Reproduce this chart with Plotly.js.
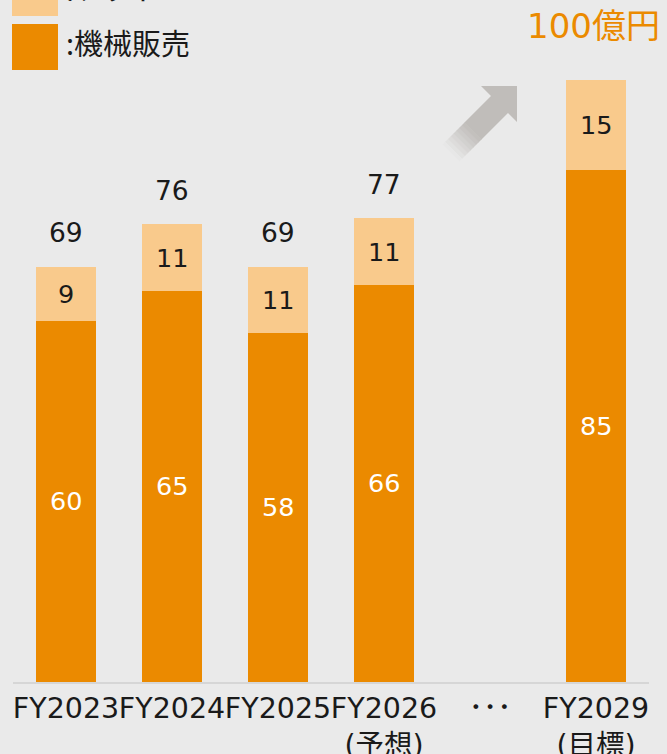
<!DOCTYPE html>
<html>
<head>
<meta charset="utf-8">
<script src="https://cdn.plot.ly/plotly-3.0.1.min.js"></script>
<style>html,body{margin:0;padding:0;background:#eaeaea;}#chart{width:667px;height:754px;}</style>
</head>
<body>
<div id="chart"></div>
<script>
// ---- data ----
const categories = ['FY2023', 'FY2024', 'FY2025', 'FY2026', 'gap', 'FY2029'];
const tickLabels = ['FY2023', 'FY2024', 'FY2025', 'FY2026<br>(予想)', '･･･', 'FY2029<br>(目標)'];
const machineSales = [60, 65, 58, 66, null, 85];
const otherSales = [9, 11, 11, 11, null, 15];
const totals = [69, 76, 69, 77, null, 100];
const targetLabel = '100億円';
const legendMachine = ':機械販売';
const legendOther = ':ソフト';

// ---- styles ----
const FONT = '"DejaVu Sans", "Noto Sans CJK JP", sans-serif';
const CJK = '"Noto Sans CJK JP", sans-serif';
const DARK = '#eb8a00';
const LIGHT = '#f9ca8c';
const BG = '#eaeaea';
const TXT = '#1a1a1a';

const W = 667, H = 754, ML = 13, MR = 18, MT = 0, MB = 72;
const PW = W - ML - MR, PH = H - MT - MB;
const px = x => (x - ML) / PW;
const py = y => (H - MB - y) / PH;

const traces = [
  { type: 'bar', x: categories, y: machineSales, marker: { color: DARK, line: { width: 0 } }, hoverinfo: 'skip' },
  { type: 'bar', x: categories, y: otherSales, marker: { color: LIGHT, line: { width: 0 } }, hoverinfo: 'skip' }
];

const annotations = [];
categories.forEach((c, i) => {
  if (machineSales[i] == null) return;
  const last = i === categories.length - 1;
  annotations.push({ x: c, y: machineSales[i] / 2, xref: 'x', yref: 'y', text: String(machineSales[i]), showarrow: false,
    font: { family: FONT, size: 25.5, color: '#ffffff' } });
  annotations.push({ x: c, y: machineSales[i] + otherSales[i] / 2, xref: 'x', yref: 'y', text: String(otherSales[i]), showarrow: false,
    font: { family: FONT, size: 25.5, color: TXT } });
  if (!last) {
    annotations.push({ x: c, y: totals[i], xref: 'x', yref: 'y', text: String(totals[i]), showarrow: false, yshift: 34,
      font: { family: FONT, size: 26.5, color: TXT } });
  } else {
    annotations.push({ x: c, y: totals[i], xref: 'x', yref: 'y', text: targetLabel, showarrow: false, yshift: 54,
      xanchor: 'right', xshift: 66,
      font: { family: FONT, size: 34, color: DARK } });
  }
});
// legend text
annotations.push({ x: px(64), y: py(42), xref: 'paper', yref: 'paper', xanchor: 'left', yanchor: 'middle', text: legendMachine,
  showarrow: false, font: { family: CJK, size: 29, color: TXT } });
annotations.push({ x: px(64), y: py(-12), xref: 'paper', yref: 'paper', xanchor: 'left', yanchor: 'middle', text: legendOther,
  showarrow: false, font: { family: CJK, size: 29, color: TXT } });

const shapes = [];
// legend squares
shapes.push({ type: 'rect', xref: 'paper', yref: 'paper', x0: px(12), x1: px(58), y0: py(-30), y1: py(16), fillcolor: LIGHT, line: { width: 0 } });
shapes.push({ type: 'rect', xref: 'paper', yref: 'paper', x0: px(12), x1: px(58), y0: py(24), y1: py(70), fillcolor: DARK, line: { width: 0 } });

// decorative arrow with fading tail
function pathFrom(pts) {
  return 'M ' + pts.map(p => px(p[0]).toFixed(5) + ' ' + py(p[1]).toFixed(5)).join(' L ') + ' Z';
}
const up = s => [(587 + s) / 2, (587 - s) / 2];
const lo = s => [(621 + s) / 2, (621 - s) / 2];
const ARROW = [0xc0, 0xbd, 0xba];
const BGC = [0xea, 0xea, 0xea];
const sStart = 298, sSolid = 342, nSeg = 8;
for (let k = 0; k < nSeg; k++) {
  const s0 = sStart + (sSolid - sStart) * k / nSeg;
  const s1 = sStart + (sSolid - sStart) * (k + 1) / nSeg + 0.6;
  const t = (k + 0.5) / nSeg;
  const col = 'rgb(' + BGC.map((b, j) => Math.round(b + (ARROW[j] - b) * t)).join(',') + ')';
  shapes.push({ type: 'path', xref: 'paper', yref: 'paper', path: pathFrom([up(s0), up(s1), lo(s1), lo(s0)]), fillcolor: col, line: { width: 0 } });
}
shapes.push({ type: 'path', xref: 'paper', yref: 'paper',
  path: pathFrom([up(sSolid), [491, 96], [481, 86], [517, 86], [517, 122], [508, 113], lo(sSolid)]),
  fillcolor: 'rgb(' + ARROW.join(',') + ')', line: { width: 0 } });

const layout = {
  width: W, height: H,
  margin: { l: ML, r: MR, t: MT, b: MB, pad: 0 },
  paper_bgcolor: BG, plot_bgcolor: BG,
  barmode: 'stack', bargap: 0.425,
  showlegend: false,
  font: { family: FONT, color: TXT },
  xaxis: {
    type: 'category', categoryorder: 'array', categoryarray: categories,
    tickvals: categories, ticktext: tickLabels,
    range: [-0.5, 5.5], fixedrange: true, tickangle: 0, automargin: false,
    showline: true, linecolor: '#d6d6d6', linewidth: 2,
    ticks: '', showgrid: false, zeroline: false,
    tickfont: { family: FONT, size: 28.5, color: TXT }
  },
  yaxis: { range: [0, PH / 6.02], visible: false, showgrid: false, zeroline: false, fixedrange: true },
  annotations: annotations,
  shapes: shapes
};

Plotly.newPlot('chart', traces, layout, { displayModeBar: false, staticPlot: true });
</script>
</body>
</html>
